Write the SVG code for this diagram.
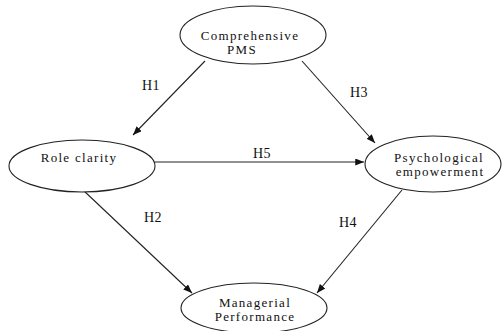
<svg xmlns="http://www.w3.org/2000/svg" width="503" height="331" viewBox="0 0 503 331">
<style>
.node ellipse{fill:#fff;stroke:#222;stroke-width:1.1}
.t{font-family:"Liberation Serif",serif;font-size:13px;letter-spacing:1.3px;fill:#111;text-anchor:middle}
.l{font-family:"Liberation Serif",serif;font-size:14px;letter-spacing:0.5px;fill:#111;text-anchor:middle}
.edges line{stroke:#222;stroke-width:1.1;marker-end:url(#ah)}
</style>
<defs>
<marker id="ah" viewBox="0 0 10 8" refX="10" refY="4" markerWidth="9" markerHeight="7" markerUnits="userSpaceOnUse" orient="auto">
<path d="M0,0 L10,4 L0,8 z" fill="#111"/>
</marker>
</defs>
<rect width="503" height="331" fill="#fff"/>
<g class="edges">
<line x1="205" y1="61" x2="133" y2="135"/>
<line x1="302" y1="61" x2="375" y2="143"/>
<line x1="155" y1="162" x2="364" y2="162"/>
<line x1="83" y1="190" x2="192" y2="293"/>
<line x1="402" y1="190" x2="317" y2="293"/>
<text class="l" x="151" y="90">H1</text>
<text class="l" x="359" y="97">H3</text>
<text class="l" x="262" y="158">H5</text>
<text class="l" x="153" y="222">H2</text>
<text class="l" x="348" y="227">H4</text>
</g>
<g id="pms" class="node">
<ellipse cx="253" cy="35" rx="73" ry="29"/>
<text class="t" x="250" y="40">Comprehensive</text>
<text class="t" x="242" y="54">PMS</text>
</g>
<g id="role" class="node">
<ellipse cx="82" cy="166" rx="73" ry="26"/>
<text class="t" x="79" y="162">Role clarity</text>
</g>
<g id="psych" class="node">
<ellipse cx="433" cy="164" rx="68" ry="28"/>
<text class="t" x="439" y="162">Psychological</text>
<text class="t" x="440" y="176">empowerment</text>
</g>
<g id="mgr" class="node">
<ellipse cx="254" cy="308" rx="73" ry="25"/>
<text class="t" x="255" y="307">Managerial</text>
<text class="t" x="255" y="321">Performance</text>
</g>
</svg>
